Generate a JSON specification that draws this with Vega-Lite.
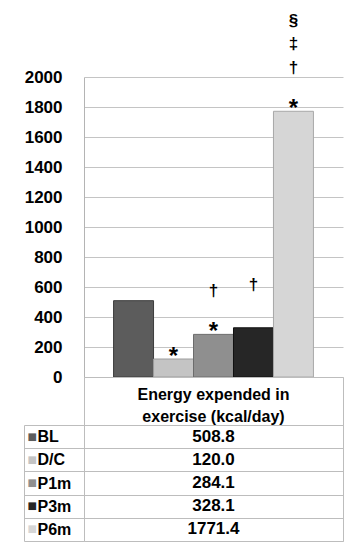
{
  "$schema": "https://vega.github.io/schema/vega-lite/v6.json",
  "padding": {"left": 23, "top": 12, "right": 10, "bottom": 5},
  "config": {"font": "Liberation Sans", "view": {"stroke": null}},
  "datasets": {
    "energy": [
      {"group": "BL", "value": 508.8, "star": "", "dagger": "", "ddagger": "", "section": ""},
      {"group": "D/C", "value": 120.0, "star": "*", "dagger": "", "ddagger": "", "section": ""},
      {"group": "P1m", "value": 284.1, "star": "*", "dagger": "†", "ddagger": "", "section": ""},
      {"group": "P3m", "value": 328.1, "star": "", "dagger": "†", "ddagger": "", "section": ""},
      {"group": "P6m", "value": 1771.4, "star": "*", "dagger": "†", "ddagger": "‡", "section": "§"}
    ]
  },
  "spacing": 0,
  "bounds": "flush",
  "vconcat": [
    {
      "width": 259,
      "height": 300,
      "data": {"name": "energy"},
      "encoding": {
        "x": {"field": "group", "type": "nominal", "sort": null, "scale": {"paddingInner": 0, "paddingOuter": 0.74}, "axis": null},
        "y": {"field": "value", "type": "quantitative", "scale": {"domain": [0, 2000], "nice": false},
          "axis": {"title": null, "values": [0, 200, 400, 600, 800, 1000, 1200, 1400, 1600, 1800, 2000], "format": "d", "ticks": false, "labelPadding": 22, "labelFontSize": 17, "labelFontWeight": "bold", "labelColor": "#000000", "gridColor": "#c4c4c4", "domainColor": "#b4b4b4"}}
      },
      "layer": [
        {
          "mark": {"type": "bar", "strokeWidth": 1},
          "encoding": {
            "fill": {"field": "group", "type": "nominal", "sort": null, "legend": null,
              "scale": {"domain": ["BL", "D/C", "P1m", "P3m", "P6m"], "range": ["#5c5c5c", "#c4c4c4", "#8f8f8f", "#262626", "#d6d6d6"]}},
            "stroke": {"field": "group", "type": "nominal", "sort": null, "legend": null,
              "scale": {"domain": ["BL", "D/C", "P1m", "P3m", "P6m"], "range": ["#3c3c3c", "#9c9c9c", "#6c6c6c", "#111111", "#a8a8a8"]}}
          }
        },
        {
          "mark": {"type": "text", "fontSize": 24, "fontWeight": "bold", "baseline": "alphabetic", "dy": 5, "color": "#000000"},
          "encoding": {"text": {"field": "star"}}
        },
        {
          "mark": {"type": "text", "fontSize": 17, "fontWeight": "bold", "baseline": "bottom", "dy": -34, "color": "#000000"},
          "encoding": {"text": {"field": "dagger"}}
        },
        {
          "mark": {"type": "text", "fontSize": 17, "fontWeight": "bold", "baseline": "bottom", "dy": -58, "color": "#000000"},
          "encoding": {"text": {"field": "ddagger"}}
        },
        {
          "mark": {"type": "text", "fontSize": 17, "fontWeight": "bold", "baseline": "bottom", "dy": -81, "color": "#000000"},
          "encoding": {"text": {"field": "section"}}
        }
      ]
    },
    {
      "width": 259,
      "height": 48,
      "view": {"stroke": "#bdbdbd"},
      "data": {"values": [{"header": "Energy expended in\nexercise (kcal/day)"}]},
      "mark": {"type": "text", "fontSize": 16, "fontWeight": "bold", "lineBreak": "\n", "lineHeight": 22, "baseline": "middle", "dy": -6, "color": "#000000"},
      "encoding": {"text": {"field": "header"}}
    },
    {
      "width": 259,
      "height": 116,
      "view": {"stroke": "#bdbdbd"},
      "data": {"name": "energy"},
      "layer": [
        {
          "mark": {"type": "text", "fontSize": 17, "fontWeight": "bold", "color": "#000000"},
          "encoding": {
            "y": {"field": "group", "type": "nominal", "sort": null, "scale": {"paddingInner": 0, "paddingOuter": 0},
              "axis": {"title": null, "orient": "left", "domain": false, "ticks": true, "tickSize": 60, "tickBand": "extent", "tickColor": "#bdbdbd", "grid": true, "gridColor": "#bdbdbd", "labelAlign": "left", "labelPadding": -13, "labelFontSize": 16, "labelFontWeight": "bold", "labelColor": "#000000", "labelBaseline": "middle"}},
            "text": {"field": "value", "type": "quantitative", "format": ".1f"}
          }
        },
        {
          "mark": {"type": "text", "opacity": 0},
          "encoding": {
            "y": {"field": "group", "type": "nominal", "sort": null,
              "axis": {"title": null, "orient": "left", "offset": 60, "domain": true, "domainColor": "#bdbdbd", "ticks": false, "tickSize": 0, "grid": false, "labelExpr": "'■'", "labelAlign": "left", "labelPadding": -3, "labelFont": "DejaVu Sans", "labelFontSize": 10, "labelBaseline": "middle",
                "labelColor": {"condition": [
                  {"test": "datum.value === 'BL'", "value": "#5c5c5c"},
                  {"test": "datum.value === 'D/C'", "value": "#c4c4c4"},
                  {"test": "datum.value === 'P1m'", "value": "#8f8f8f"},
                  {"test": "datum.value === 'P3m'", "value": "#262626"}
                ], "value": "#d6d6d6"}}},
            "text": {"field": "group"}
          }
        }
      ],
      "resolve": {"axis": {"y": "independent"}}
    }
  ]
}
